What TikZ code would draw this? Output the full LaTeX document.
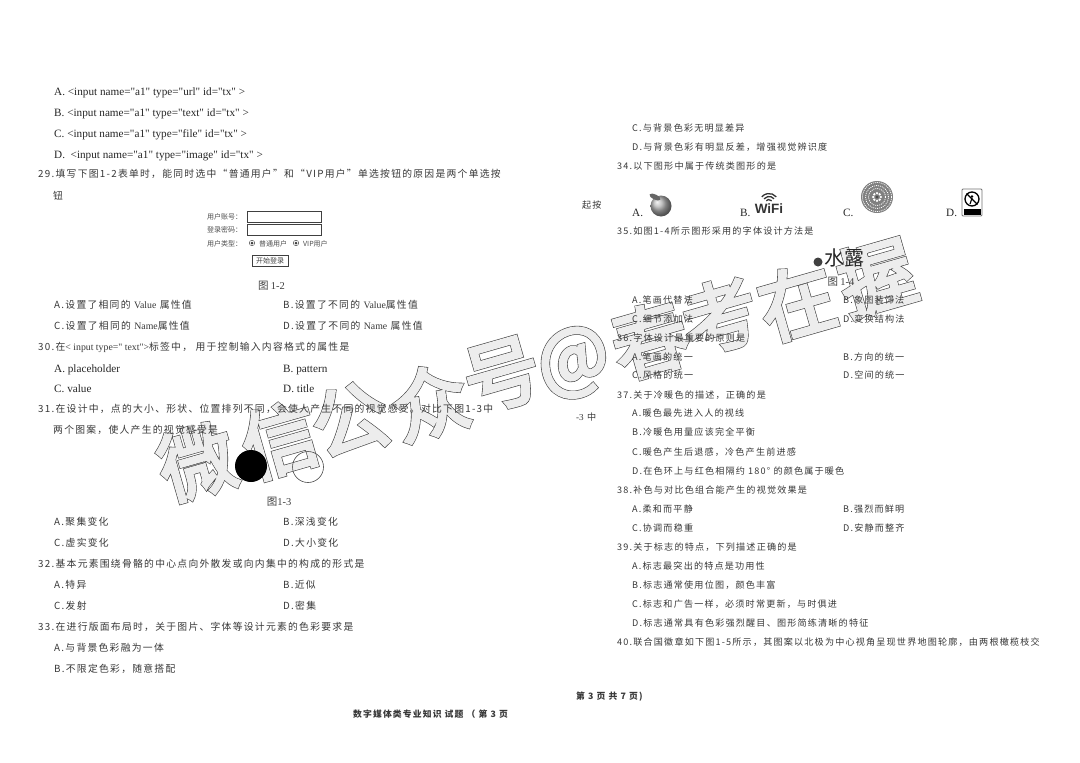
\documentclass[tikz,border=0pt]{standalone}
\usepackage{fontspec}
\setmainfont[LetterSpace=13]{Noto Sans CJK SC}
\newfontfamily\lat{Liberation Serif}
\newfontfamily\hei{Liberation Sans}
\newfontfamily\wmfont{Noto Sans CJK SC}
\newfontfamily\plaincjk{Noto Sans CJK SC}
\newcommand{\outlined}[1]{\rlap{\special{pdf:code q 2 Tr 4.2 w 0.25 0.25 0.25 RG 0.25 0.25 0.25 rg}#1\special{pdf:code Q}}\special{pdf:code q 2 Tr 3.0 w 0.93 0.93 0.93 RG 0.93 0.93 0.93 rg}#1\special{pdf:code Q}}
\begin{document}
\begin{tikzpicture}
  [x=1pt, y=-1pt,
   examline/.style={anchor=west, inner sep=0pt, text height=8pt, text depth=2pt, text=black!78},
   leftline/.style={examline, font=\fontsize{9.8}{12}\selectfont},
   rightline/.style={examline, font=\fontsize{9.1}{12}\selectfont},
   latline/.style={examline, text=black!85, font=\lat\fontsize{11.2}{12}\selectfont},
   formtext/.style={examline, text=black!70, font=\plaincjk\fontsize{7}{8}\selectfont},
   forminput/.style={draw=black!75, line width=0.6pt},
   figcap/.style={anchor=center, inner sep=0pt, text=black!75, font=\plaincjk\fontsize{10.5}{12}\selectfont},
   watermark/.style={inner sep=0pt, rotate=16, font=\wmfont\fontsize{76}{76}\selectfont}]
  \useasboundingbox (0,0) rectangle (1080,763);
  \fill[white] (0,0) rectangle (1080,763);

  \foreach \wmname/\wmchar/\wmx/\wmy in {a/微/197/462, b/信/280/440, c/公/350/420, d/众/430/402, e/号/502/375,
                                         f/@/574/363, g/春/650/340, h/考/720/316, i/在/797/302, j/握/877/277}
    \node (wm\wmname) at (\wmx,\wmy) [watermark] {\outlined{\wmchar}};

  \node (q28a) at (54,92)  [latline] {A. <input name="a1" type="url" id="tx" >};
  \node (q28b) at (54,113) [latline] {B. <input name="a1" type="text" id="tx" >};
  \node (q28c) at (54,134) [latline] {C. <input name="a1" type="file" id="tx" >};
  \node (q28d) at (54,155) [latline] {D.\ \ <input name="a1" type="image" id="tx" >};
  \node (q29)  at (38,174) [leftline] {29.填写下图1-2表单时，能同时选中“普通用户”和“VIP用户”单选按钮的原因是两个单选按};
  \node (q29x) at (53,196) [leftline] {钮};

  \node (userlab) at (207,216) [formtext] {用户账号：};
  \node (pwdlab)  at (207,229) [formtext] {登录密码：};
  \node (typelab) at (207,243) [formtext] {用户类型：};
  \node (userbox) at (284,216.5) [forminput, minimum width=74pt, minimum height=11pt, inner sep=0pt] {};
  \node (pwdbox)  at (284,229.5) [forminput, minimum width=74pt, minimum height=11pt, inner sep=0pt] {};
  \node (radioa) at (252,243) [draw=black!75, circle, inner sep=0pt, minimum size=5.5pt] {};
  \node (radiob) at (296,243) [draw=black!75, circle, inner sep=0pt, minimum size=5.5pt] {};
  \fill[black!75] (radioa) circle (1.5pt);
  \fill[black!75] (radiob) circle (1.5pt);
  \node (typea) at (259,243) [formtext] {普通用户};
  \node (typeb) at (303,243) [formtext] {VIP用户};
  \node (startbtn) at (270,260.5) [forminput, minimum width=36pt, minimum height=11pt, inner sep=0pt,
                                   font=\plaincjk\fontsize{7}{8}\selectfont, text=black!75] {开始登录};
  \node (fig12) at (271.5,286) [figcap] {图 {\lat 1-2}};

  \node (q29a) at (54,305)  [leftline] {A.设置了相同的 {\lat Value} 属性值};
  \node (q29b) at (283,305) [leftline] {B.设置了不同的 {\lat Value}属性值};
  \node (q29c) at (54,326)  [leftline] {C.设置了相同的 {\lat Name}属性值};
  \node (q29d) at (283,326) [leftline] {D.设置了不同的 {\lat Name} 属性值};
  \node (q30)  at (38,347)  [leftline] {30.在{\lat < input type=" text">}标签中， 用于控制输入内容格式的属性是};
  \node (q30a) at (54,369)  [latline] {A. placeholder};
  \node (q30b) at (283,369) [latline] {B. pattern};
  \node (q30c) at (54,389)  [latline] {C. value};
  \node (q30d) at (283,389) [latline] {D. title};
  \node (q31)  at (38,409)  [leftline] {31.在设计中，点的大小、形状、位置排列不同，会使人产生不同的视觉感受。对比下图1-3中};
  \node (q31x) at (53,430)  [leftline] {两个图案，使人产生的视觉感受是};

  \node (blackdot) at (251,466) [circle, fill=black, inner sep=0pt, minimum size=32pt] {};
  \node (whitedot) at (308,467) [circle, draw=black!70, line width=0.6pt, inner sep=0pt, minimum size=31pt] {};
  \node (fig13) at (279,502) [figcap] {图{\lat 1-3}};

  \node (q31a) at (54,522)  [leftline] {A.聚集变化};
  \node (q31b) at (283,522) [leftline] {B.深浅变化};
  \node (q31c) at (54,543)  [leftline] {C.虚实变化};
  \node (q31d) at (283,543) [leftline] {D.大小变化};
  \node (q32)  at (38,564)  [leftline] {32.基本元素围绕骨骼的中心点向外散发或向内集中的构成的形式是};
  \node (q32a) at (54,585)  [leftline] {A.特异};
  \node (q32b) at (283,585) [leftline] {B.近似};
  \node (q32c) at (54,606)  [leftline] {C.发射};
  \node (q32d) at (283,606) [leftline] {D.密集};
  \node (q33)  at (38,627)  [leftline] {33.在进行版面布局时，关于图片、字体等设计元素的色彩要求是};
  \node (q33a) at (54,648)  [leftline] {A.与背景色彩融为一体};
  \node (q33b) at (54,669)  [leftline] {B.不限定色彩，随意搭配};

  \node (q33c) at (632,128) [rightline] {C.与背景色彩无明显差异};
  \node (q33d) at (632,147) [rightline] {D.与背景色彩有明显反差，增强视觉辨识度};
  \node (q34)  at (617,166) [rightline] {34.以下图形中属于传统类图形的是};
  \node (qian) at (582,205) [rightline] {起按};
  \node (q34a) at (632,213) [latline] {A.};
  \node (q34b) at (740,213) [latline] {B.};
  \node (q34c) at (843,213) [latline] {C.};
  \node (q34d) at (946,213) [latline] {D.};

  \node (apple) at (661,206) [circle, inner sep=0pt, minimum size=21pt, ball color=black!30] {};
  \fill[black!60, rotate around={-25:(655,197)}] (655,197) ellipse (6pt and 2.5pt);

  \node (wifi) at (769,209) [inner sep=0pt, text=black!80, font=\hei\bfseries\fontsize{13.5}{14}\selectfont] {WiFi};
  \draw[black!80, line width=1.3pt] (771.7,200.75) arc (40:140:3.5pt);
  \draw[black!80, line width=1.3pt] (774,198.8) arc (40:140:6.5pt);
  \draw[black!80, line width=1.3pt] (776.3,196.9) arc (40:140:9.5pt);

  \node (mandala) at (877,197) [circle, fill=black!50, inner sep=0pt, minimum size=32pt] {};
  \foreach \ringr in {14.5,11.5,8.5}
    \draw[white, line width=0.8pt, dash pattern=on 1pt off 1pt] (mandala) circle (\ringr pt);
  \foreach \petal in {0,45,...,315}
    \fill[white] (mandala.center) ++(\petal:3.8pt) circle (1.3pt);
  \fill[black!70] (mandala) circle (1.6pt);

  \node (signbox) at (972,202.5) [draw=black!55, fill=white, rounded corners=1pt, line width=0.8pt,
                                  inner sep=0pt, minimum width=20pt, minimum height=27pt] {};
  \node (signdisc) at (972,199) [circle, draw=black, line width=1.3pt, inner sep=0pt, minimum size=14pt] {};
  \draw[black, line width=1.2pt] (signdisc.north west) -- (signdisc.south east);
  \fill[black] (972,196.5) circle (1.3pt);
  \draw[black, line width=1.1pt] (972,198) -- (970,204);
  \fill[black] (963.5,209) rectangle (980.5,215);

  \node (q35) at (617,231) [rightline] {35.如图1-4所示图形采用的字体设计方法是};
  \fill[black!75] (818,262) circle (4.5pt);
  \node (shuilu) at (844,258) [inner sep=0pt, text=black!85, font=\plaincjk\fontsize{20}{20}\selectfont] {水露};
  \node (fig14) at (841,282) [figcap] {图 {\lat 1-4}};
  \node (q35a) at (632,300) [rightline] {A.笔画代替法};
  \node (q35b) at (843,300) [rightline] {B.象图装饰法};
  \node (q35c) at (632,319) [rightline] {C.细节添加法};
  \node (q35d) at (843,319) [rightline] {D.变换结构法};
  \node (q36)  at (617,338) [rightline] {36.字体设计最重要的原则是};
  \node (q36a) at (632,357) [rightline] {A.笔画的统一};
  \node (q36b) at (843,357) [rightline] {B.方向的统一};
  \node (q36c) at (632,375) [rightline] {C.风格的统一};
  \node (q36d) at (843,375) [rightline] {D.空间的统一};
  \node (q37)  at (617,395) [rightline] {37.关于冷暖色的描述，正确的是};
  \node (midx) at (576,417) [rightline] {{\lat -3} 中};
  \node (q37a) at (632,413) [rightline] {A.暖色最先进入人的视线};
  \node (q37b) at (632,432) [rightline] {B.冷暖色用量应该完全平衡};
  \node (q37c) at (632,452) [rightline] {C.暖色产生后退感，冷色产生前进感};
  \node (q37d) at (632,471) [rightline] {D.在色环上与红色相隔约 180° 的颜色属于暖色};
  \node (q38)  at (617,490) [rightline] {38.补色与对比色组合能产生的视觉效果是};
  \node (q38a) at (632,509) [rightline] {A.柔和而平静};
  \node (q38b) at (843,509) [rightline] {B.强烈而鲜明};
  \node (q38c) at (632,528) [rightline] {C.协调而稳重};
  \node (q38d) at (843,528) [rightline] {D.安静而整齐};
  \node (q39)  at (617,547) [rightline] {39.关于标志的特点，下列描述正确的是};
  \node (q39a) at (632,566) [rightline] {A.标志最突出的特点是功用性};
  \node (q39b) at (632,585) [rightline] {B.标志通常使用位图，颜色丰富};
  \node (q39c) at (632,604) [rightline] {C.标志和广告一样，必须时常更新，与时俱进};
  \node (q39d) at (632,623) [rightline] {D.标志通常具有色彩强烈醒目、图形简练清晰的特征};
  \node (q40)  at (617,642) [rightline] {40.联合国徽章如下图1-5所示，其图案以北极为中心视角呈现世界地图轮廓，由两根橄榄枝交};

  \node (pagea) at (576,696) [examline, font=\bfseries\fontsize{8.8}{10}\selectfont] {第 3 页 共 7 页)};
  \node (pageb) at (353,714) [examline, font=\bfseries\fontsize{8.8}{10}\selectfont] {数字媒体类专业知识 试题 （ 第 3 页};
\end{tikzpicture}
\end{document}
